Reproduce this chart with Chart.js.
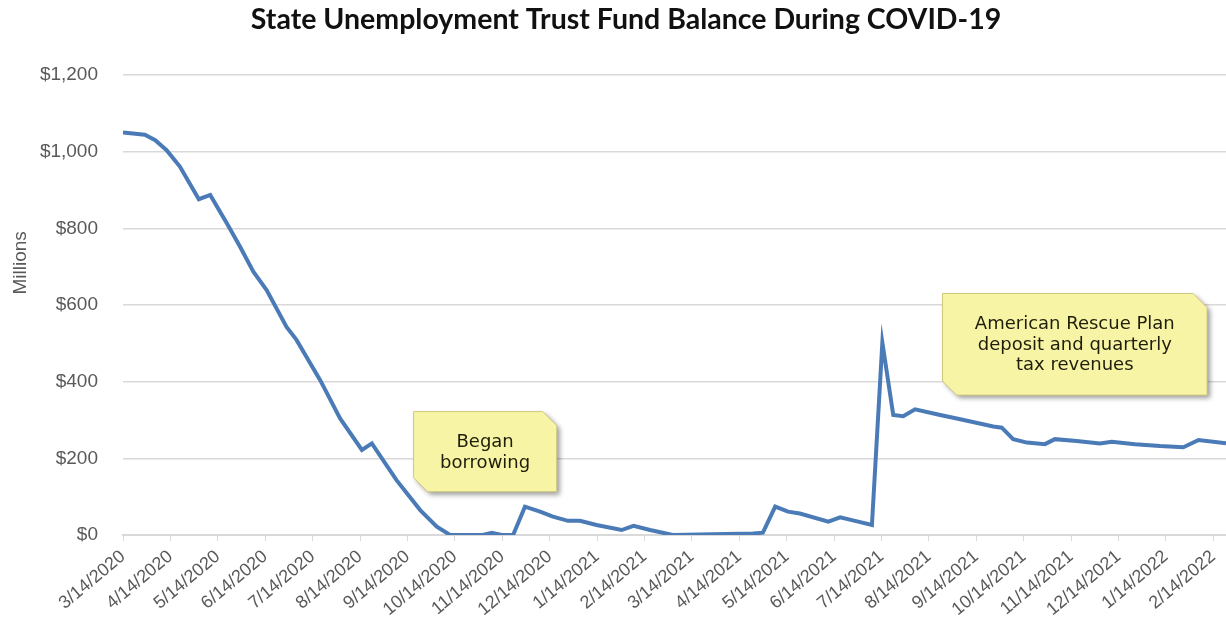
<!DOCTYPE html>
<html>
<head>
<meta charset="utf-8">
<script src="https://cdn.jsdelivr.net/npm/chart.js@4.4.1/dist/chart.umd.min.js"></script>
<style>
  html, body { margin: 0; padding: 0; background: #fff; }
  #wrap { width: 1226px; height: 620px; position: relative; }
</style>
</head>
<body>
<div id="wrap"><canvas id="fundChart"></canvas></div>
<script>
// month ticks (x = months since 3/14/2020)
const tickLabels = ['3/14/2020', '4/14/2020', '5/14/2020', '6/14/2020', '7/14/2020', '8/14/2020',
    '9/14/2020', '10/14/2020', '11/14/2020', '12/14/2020', '1/14/2021', '2/14/2021',
    '3/14/2021', '4/14/2021', '5/14/2021', '6/14/2021', '7/14/2021', '8/14/2021',
    '9/14/2021', '10/14/2021', '11/14/2021', '12/14/2021', '1/14/2022', '2/14/2022'];

// balance readings, $ millions
const monthPos = [0, 0.46, 0.68, 0.92, 1.2, 1.6, 1.84, 2.19, 2.47, 2.75, 3.03, 3.45, 3.66, 4.16,
    4.58, 5.04, 5.25, 5.77, 6.27, 6.62, 6.9, 7.59, 7.78, 7.99, 8.23, 8.48, 8.8, 9.07, 9.39,
    9.64, 9.99, 10.52, 10.77, 11.12, 11.6, 13.29, 13.5, 13.76, 14.03, 14.28, 14.88, 15.13,
    15.51, 15.8, 16.02, 16.25, 16.46, 16.71, 17.24, 17.59, 18.36, 18.54, 18.78, 19.07,
    19.45, 19.66, 20.12, 20.61, 20.86, 21.35, 21.88, 22.37, 22.69, 23.27];
const balance = [1050, 1044, 1030, 1004, 961, 876, 887, 813, 752, 687, 639, 543, 509, 404,
    304, 222, 239, 143, 65, 22, 0, 0, 6, 0, 0, 74, 61, 48, 37,
    37, 26, 13, 24, 13, 0, 4, 6, 74, 61, 56, 35, 46,
    35, 26, 502, 313, 310, 328, 313, 304, 283, 280, 250, 241,
    237, 250, 245, 239, 243, 237, 232, 229, 248, 239];

const notes = [
    { text: ['Began', 'borrowing'], x0: 6.13, x1: 9.15, yTop: 322, yBottom: 113 },
    { text: ['American Rescue Plan', 'deposit and quarterly', 'tax revenues'], x0: 17.29, x1: 22.87, yTop: 630, yBottom: 365 }
];

const calloutPlugin = {
    id: 'callouts',
    afterDraw(chart) {
        const ctx = chart.ctx;
        const xs = chart.scales.x, ys = chart.scales.y;

        // y axis title, sits above the middle of the axis like the original
        ctx.save();
        ctx.translate(21, ys.getPixelForValue(710));
        ctx.rotate(-Math.PI / 2);
        ctx.fillStyle = '#595959';
        ctx.font = '19px "Liberation Sans"';
        ctx.textAlign = 'center';
        ctx.textBaseline = 'middle';
        ctx.fillText('Millions', 0, 0);
        ctx.restore();

        notes.forEach(n => {
            const l = xs.getPixelForValue(n.x0), r = xs.getPixelForValue(n.x1);
            const t = ys.getPixelForValue(n.yTop), b = ys.getPixelForValue(n.yBottom);
            const c = 14;
            ctx.save();
            ctx.beginPath();
            ctx.moveTo(l, t);
            ctx.lineTo(r - c, t);
            ctx.lineTo(r, t + c);
            ctx.lineTo(r, b);
            ctx.lineTo(l + c, b);
            ctx.lineTo(l, b - c);
            ctx.closePath();
            ctx.shadowColor = 'rgba(0,0,0,0.4)';
            ctx.shadowBlur = 5;
            ctx.shadowOffsetX = 3;
            ctx.shadowOffsetY = 3;
            ctx.fillStyle = '#f8f4a6';
            ctx.fill();
            ctx.shadowColor = 'transparent';
            ctx.strokeStyle = '#cfc97e';
            ctx.lineWidth = 1;
            ctx.stroke();
            ctx.fillStyle = '#1e1e0a';
            ctx.font = '18px "DejaVu Sans"';
            ctx.textAlign = 'center';
            ctx.textBaseline = 'middle';
            const lh = 20.5;
            const cy = (t + b) / 2 + 1 - (n.text.length - 1) * lh / 2;
            n.text.forEach((s, i) => ctx.fillText(s, (l + r) / 2, cy + i * lh));
            ctx.restore();
        });
    }
};

const ctx = document.getElementById('fundChart').getContext('2d');

const chart = new Chart(ctx, {
    type: 'line',
    data: {
        datasets: [{
            label: 'Trust fund balance',
            data: monthPos.map((m, i) => ({ x: m, y: balance[i] })),
            borderColor: '#4a7bb7',
            borderWidth: 4,
            pointRadius: 0,
            tension: 0,
            fill: false
        }]
    },
    options: {
        responsive: true,
        maintainAspectRatio: false,
        animation: false,
        layout: { padding: { left: 26, right: 0, top: 0, bottom: 0 } },
        plugins: {
            legend: { display: false },
            tooltip: { enabled: false },
            title: {
                display: true,
                text: 'State Unemployment Trust Fund Balance During COVID-19',
                color: '#111',
                font: { family: 'Lato', size: 28.5, weight: 'bold' },
                padding: { top: 3, bottom: 37.8 }
            }
        },
        scales: {
            x: {
                type: 'linear',
                min: 0,
                max: 23.27,
                afterBuildTicks: s => { s.ticks = tickLabels.map((_, i) => ({ value: i })); },
                afterFit: s => { s.height = 85; s.paddingRight = 0; },
                grid: { drawOnChartArea: false, drawTicks: true, tickLength: 6, color: '#d9d9d9' },
                border: { color: '#d9d9d9', width: 2 },
                ticks: {
                    autoSkip: false,
                    minRotation: 40,
                    maxRotation: 40,
                    padding: 5,
                    color: '#595959',
                    font: { family: 'Liberation Sans', size: 18 },
                    callback: v => tickLabels[v] || ''
                }
            },
            y: {
                min: 0,
                max: 1200,
                afterFit: s => { s.width = 97; },
                grid: { color: '#d9d9d9', lineWidth: 1.5, drawTicks: false },
                border: { display: false },
                ticks: {
                    stepSize: 200,
                    padding: 25,
                    color: '#595959',
                    font: { family: 'Liberation Sans', size: 19 },
                    callback: v => '$' + v.toLocaleString('en-US')
                }
            }
        }
    },
    plugins: [calloutPlugin]
});
</script>
</body>
</html>
